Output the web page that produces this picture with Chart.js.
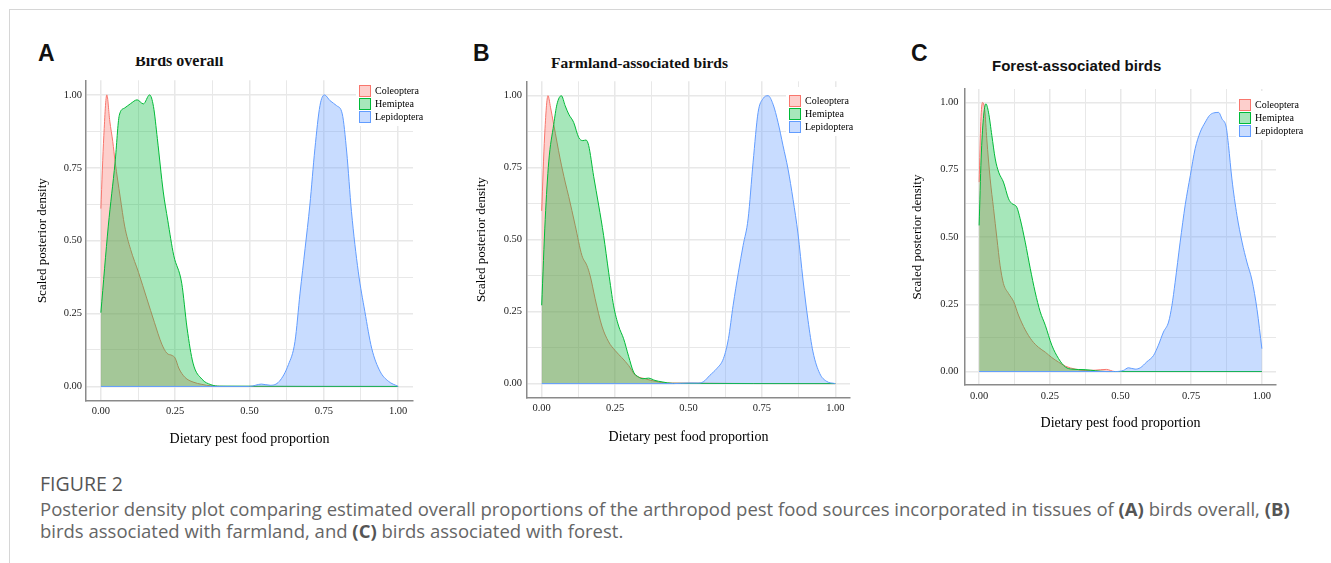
<!DOCTYPE html>
<html>
<head>
<meta charset="utf-8">
<script src="https://cdn.jsdelivr.net/npm/chart.js@4.4.1/dist/chart.umd.min.js"></script>
<style>
  html, body { margin: 0; padding: 0; background: #fff; }
  body { width: 1331px; height: 563px; position: relative; overflow: hidden; }
  .frame-top { position: absolute; left: 9px; top: 9px; width: 1322px; height: 1px; background: #d6d6d6; }
  .frame-left { position: absolute; left: 9px; top: 9px; width: 1px; height: 554px; background: #d6d6d6; }
  canvas { position: absolute; }
  .letter { position: absolute; font-family: "Liberation Sans", Arial, sans-serif; font-weight: bold;
            font-size: 23px; line-height: 23px; color: #111; }
  .title { position: absolute; font-weight: bold; color: #111; white-space: nowrap; }
  .serif { font-family: "Liberation Serif", "Times New Roman", serif; }
  .sans { font-family: "Liberation Sans", Arial, sans-serif; }
  .clip { position: absolute; overflow: hidden; }
  .cap { position: absolute; left: 40px; font-family: "Open Sans", sans-serif; white-space: nowrap;
         font-size: 18.5px; line-height: 22px; color: #666; }
  .cap b { color: #555; }
</style>
</head>
<body>
<div class="frame-top"></div>
<div class="frame-left"></div>

<div class="letter" style="left:38px; top:42px;">A</div>
<div class="letter" style="left:473px; top:42px;">B</div>
<div class="letter" style="left:911px; top:42px;">C</div>

<div class="clip" style="left:135px; top:57px; width:120px; height:14px;">
  <div class="title serif" style="left:0; top:-3.7px; font-size:16px; line-height:16px;">Birds overall</div>
</div>
<div class="title serif" style="left:551px; top:55.3px; font-size:15.5px; line-height:15.5px;">Farmland-associated birds</div>
<div class="title sans" style="left:992px; top:58px; font-size:15px; line-height:15px;">Forest-associated birds</div>

<canvas id="chartA" width="420" height="390" style="left:20px; top:70px;"></canvas>
<canvas id="chartB" width="420" height="390" style="left:460px; top:70px;"></canvas>
<canvas id="chartC" width="436" height="390" style="left:895px; top:70px;"></canvas>

<div class="cap" style="top:472.5px; font-size:19.5px; color:#555;">FIGURE 2</div>
<div class="cap" style="top:498px;">Posterior density plot comparing estimated overall proportions of the arthropod pest food sources incorporated in tissues of <b>(A)</b> birds overall, <b>(B)</b></div>
<div class="cap" style="top:520px;">birds associated with farmland, and <b>(C)</b> birds associated with forest.</div>

<script>
const groups = ['Coleoptera', 'Hemiptea', 'Lepidoptera'];
const xBreaks = [0, 0.25, 0.5, 0.75, 1];
const xBreakLabels = ['0.00', '0.25', '0.50', '0.75', '1.00'];
const yBreaks = [0, 0.25, 0.5, 0.75, 1];
const yBreakLabels = ['0.00', '0.25', '0.50', '0.75', '1.00'];
const minorBreaks = [0.125, 0.375, 0.625, 0.875];

// A - birds overall
const aColeopteraX = [0, 0.01, 0.02, 0.03, 0.04, 0.048, 0.065, 0.08, 0.1, 0.127, 0.155, 0.18, 0.205, 0.222, 0.24, 0.25, 0.262, 0.283, 0.31, 0.34, 0.37, 0.42, 1];
const aColeopteraY = [0.61, 0.86, 1.0, 0.91, 0.84, 0.77, 0.65, 0.55, 0.47, 0.39, 0.30, 0.22, 0.145, 0.114, 0.106, 0.097, 0.063, 0.031, 0.015, 0.007, 0.002, 0, 0];
const aHemipteaX = [0, 0.025, 0.048, 0.062, 0.08, 0.1, 0.122, 0.143, 0.164, 0.177, 0.19, 0.21, 0.225, 0.245, 0.272, 0.29, 0.31, 0.34, 0.37, 0.4, 1];
const aHemipteaY = [0.253, 0.55, 0.77, 0.93, 0.955, 0.97, 0.983, 0.969, 1.0, 0.96, 0.85, 0.667, 0.57, 0.45, 0.354, 0.2, 0.08, 0.025, 0.006, 0.001, 0];
const aLepidopteraX = [0, 0.5, 0.54, 0.57, 0.6, 0.631, 0.653, 0.67, 0.687, 0.703, 0.72, 0.737, 0.752, 0.771, 0.793, 0.812, 0.827, 0.843, 0.866, 0.888, 0.911, 0.939, 0.967, 1];
const aLepidopteraY = [0, 0, 0.008, 0.004, 0.017, 0.075, 0.154, 0.32, 0.473, 0.622, 0.815, 0.963, 1.0, 0.98, 0.963, 0.935, 0.804, 0.6, 0.393, 0.257, 0.131, 0.052, 0.018, 0];

// B - farmland-associated birds
const bColeopteraX = [0, 0.01, 0.0215, 0.03, 0.041, 0.063, 0.08, 0.092, 0.114, 0.137, 0.154, 0.165, 0.182, 0.205, 0.228, 0.25, 0.273, 0.296, 0.318, 0.352, 0.386, 0.43, 1];
const bColeopteraY = [0.60, 0.86, 1.0, 0.96, 0.90, 0.78, 0.70, 0.65, 0.55, 0.445, 0.41, 0.375, 0.295, 0.2, 0.145, 0.115, 0.09, 0.063, 0.03, 0.017, 0.008, 0.002, 0];
const bHemipteaX = [0, 0.012, 0.024, 0.041, 0.052, 0.067, 0.08, 0.092, 0.109, 0.126, 0.14, 0.151, 0.16, 0.177, 0.194, 0.211, 0.228, 0.245, 0.262, 0.279, 0.296, 0.313, 0.33, 0.345, 0.364, 0.386, 0.41, 0.445, 1];
const bHemipteaY = [0.272, 0.57, 0.77, 0.90, 0.97, 1.0, 0.965, 0.936, 0.907, 0.855, 0.844, 0.846, 0.827, 0.72, 0.62, 0.514, 0.387, 0.27, 0.2, 0.156, 0.095, 0.04, 0.023, 0.017, 0.019, 0.011, 0.006, 0.001, 0];
const bLepidopteraX = [0, 0.45, 0.5, 0.53, 0.55, 0.573, 0.596, 0.619, 0.636, 0.652, 0.67, 0.686, 0.703, 0.72, 0.737, 0.754, 0.771, 0.788, 0.805, 0.822, 0.839, 0.856, 0.873, 0.89, 0.907, 0.924, 0.947, 0.97, 1];
const bLepidopteraY = [0, 0, 0.002, 0.002, 0.006, 0.029, 0.052, 0.087, 0.156, 0.272, 0.387, 0.48, 0.572, 0.769, 0.942, 0.99, 1.0, 0.97, 0.907, 0.826, 0.745, 0.64, 0.52, 0.36, 0.22, 0.11, 0.035, 0.008, 0];

// C - forest-associated birds
const cColeopteraX = [0, 0.006, 0.012, 0.02, 0.027, 0.039, 0.051, 0.063, 0.074, 0.086, 0.104, 0.122, 0.139, 0.163, 0.187, 0.21, 0.234, 0.257, 0.281, 0.305, 0.34, 0.375, 0.41, 0.45, 0.48, 1];
const cColeopteraY = [0.704, 0.93, 1.0, 0.97, 0.865, 0.716, 0.605, 0.494, 0.395, 0.327, 0.29, 0.26, 0.21, 0.155, 0.115, 0.09, 0.072, 0.052, 0.035, 0.02, 0.009, 0.004, 0.005, 0.008, 0, 0];
const cHemipteaX = [0, 0.007, 0.015, 0.024, 0.033, 0.045, 0.057, 0.069, 0.086, 0.104, 0.116, 0.133, 0.145, 0.163, 0.181, 0.198, 0.216, 0.234, 0.257, 0.281, 0.305, 0.328, 0.375, 0.411, 0.45, 1];
const cHemipteaY = [0.543, 0.79, 0.94, 0.995, 0.964, 0.877, 0.79, 0.741, 0.704, 0.642, 0.624, 0.611, 0.568, 0.481, 0.382, 0.296, 0.222, 0.172, 0.098, 0.048, 0.017, 0.009, 0.007, 0.003, 0, 0];
const cLepidopteraX = [0, 0.48, 0.51, 0.528, 0.552, 0.57, 0.593, 0.617, 0.634, 0.652, 0.67, 0.682, 0.693, 0.711, 0.729, 0.747, 0.764, 0.782, 0.8, 0.815, 0.829, 0.847, 0.859, 0.874, 0.882, 0.894, 0.912, 0.93, 0.947, 0.965, 0.983, 1];
const cLepidopteraY = [0, 0, 0.004, 0.014, 0.009, 0.014, 0.036, 0.06, 0.098, 0.147, 0.184, 0.246, 0.33, 0.481, 0.62, 0.729, 0.828, 0.89, 0.927, 0.952, 0.961, 0.963, 0.939, 0.908, 0.84, 0.716, 0.58, 0.481, 0.407, 0.34, 0.23, 0.085];

const lineColors = ['#F8766D', '#00BA38', '#619CFF'];
const fillColors = ['rgba(248,118,109,0.35)', 'rgba(0,186,56,0.35)', 'rgba(97,156,255,0.35)'];

// ggplot-like legend with a white box, drawn at a fixed place
const ggLegend = {
  id: 'ggLegend',
  afterDraw(chart, args, opts) {
    const ctx = chart.ctx;
    const sets = chart.data.datasets;
    ctx.save();
    ctx.font = '10px "Liberation Serif"';
    let w = 0;
    sets.forEach(d => { w = Math.max(w, ctx.measureText(d.label).width); });
    ctx.fillStyle = '#fff';
    ctx.fillRect(opts.x - 3, opts.y - 8, 12 + 4 + w + 8, sets.length * opts.step + 10);
    sets.forEach((d, i) => {
      const y = opts.y + i * opts.step;
      ctx.fillStyle = d.backgroundColor;
      ctx.fillRect(opts.x, y, 12, 12);
      ctx.strokeStyle = d.borderColor;
      ctx.lineWidth = 1;
      ctx.strokeRect(opts.x + 0.5, y + 0.5, 11, 11);
      ctx.fillStyle = '#000';
      ctx.textBaseline = 'middle';
      ctx.fillText(d.label, opts.x + 16, y + 6.5);
    });
    ctx.restore();
  }
};

function pts(xs, ys) {
  return xs.map((x, i) => ({ x: x, y: ys[i] }));
}

function breakLabel(v, breaks, labels) {
  const i = breaks.findIndex(b => Math.abs(b - v) < 1e-6);
  return i < 0 ? '' : labels[i];
}

function isMajor(v, breaks) {
  return breaks.some(b => Math.abs(b - v) < 1e-6);
}

const allX = xBreaks.concat(minorBreaks).sort((a, b) => a - b);
const allY = yBreaks.concat(minorBreaks).sort((a, b) => a - b);

function makePanel(p) {
  const yWidth = p.area.l - p.box.left;
  const xHeight = p.box.top + p.box.h - p.area.b;
  const xTitleFont = { family: 'Liberation Serif', size: 14 };
  const yTitleFont = { family: 'Liberation Serif', size: 13 };
  const tickFont = { family: 'Liberation Serif', size: 10.5 };

  new Chart(document.getElementById(p.id), {
    type: 'line',
    data: {
      datasets: p.series.map((s, i) => ({
        label: groups[i],
        data: pts(s[0], s[1]),
        borderColor: lineColors[i],
        backgroundColor: fillColors[i],
        borderWidth: 1,
        pointRadius: 0,
        fill: 'origin',
        cubicInterpolationMode: 'monotone',
        order: 3 - i
      }))
    },
    options: {
      responsive: false,
      animation: false,
      devicePixelRatio: 1,
      events: [],
      layout: {
        padding: { left: 0, top: p.area.t - p.box.top, right: p.box.left + p.box.w - p.area.r, bottom: 0 }
      },
      plugins: {
        legend: { display: false },
        tooltip: { enabled: false },
        ggLegend: { x: p.legend.x - p.box.left, y: p.legend.y - p.box.top, step: 13 }
      },
      scales: {
        x: {
          type: 'linear', min: -0.05, max: 1.05, bounds: 'data',
          afterBuildTicks: s => { s.ticks = allX.map(v => ({ value: v })); },
          afterFit: s => { s.height = xHeight; },
          ticks: {
            autoSkip: false, maxRotation: 0, padding: p.xPad, font: tickFont, color: '#222',
            callback: v => breakLabel(v, xBreaks, xBreakLabels)
          },
          grid: { color: '#e8e8e8', drawTicks: false, lineWidth: c => isMajor(c.tick.value, xBreaks) ? 1.5 : 1 },
          border: { display: true, color: '#8a8a8a', width: 1.5 },
          title: {
            display: true, text: 'Dietary pest food proportion', font: xTitleFont, color: '#000',
            padding: { top: 0, bottom: p.box.top + p.box.h - p.xTitleY - 14 * 1.2 / 2 }
          }
        },
        y: {
          type: 'linear', min: -0.05, max: 1.05, bounds: 'data',
          afterBuildTicks: s => { s.ticks = allY.map(v => ({ value: v })); },
          afterFit: s => { s.width = yWidth; },
          ticks: {
            autoSkip: false, padding: p.yPad, font: tickFont, color: '#222',
            callback: v => breakLabel(v, yBreaks, yBreakLabels)
          },
          grid: { color: '#e8e8e8', drawTicks: false, lineWidth: c => isMajor(c.tick.value, yBreaks) ? 1.5 : 1 },
          border: { display: true, color: '#8a8a8a', width: 1.5 },
          title: {
            display: true, text: 'Scaled posterior density', font: yTitleFont, color: '#000',
            padding: { top: p.yTitleX - p.box.left - 13 * 1.2 / 2, bottom: 0 }
          }
        }
      }
    },
    plugins: [ggLegend]
  });
}

makePanel({
  id: 'chartA',
  box: { left: 20, top: 70, w: 420, h: 390 },
  area: { l: 86, r: 413, t: 80, b: 401 },
  yTitleX: 43, xTitleY: 439, yPad: 4, xPad: 4,
  legend: { x: 359, y: 85 },
  series: [[aColeopteraX, aColeopteraY], [aHemipteaX, aHemipteaY], [aLepidopteraX, aLepidopteraY]]
});
makePanel({
  id: 'chartB',
  box: { left: 460, top: 70, w: 420, h: 390 },
  area: { l: 527, r: 850, t: 81, b: 398 },
  yTitleX: 482, xTitleY: 437, yPad: 5, xPad: 4,
  legend: { x: 789, y: 95 },
  series: [[bColeopteraX, bColeopteraY], [bHemipteaX, bHemipteaY], [bLepidopteraX, bLepidopteraY]]
});
makePanel({
  id: 'chartC',
  box: { left: 895, top: 70, w: 436, h: 390 },
  area: { l: 965, r: 1276, t: 89, b: 385 },
  yTitleX: 918, xTitleY: 423, yPad: 6.5, xPad: 5,
  legend: { x: 1239, y: 99 },
  series: [[cColeopteraX, cColeopteraY], [cHemipteaX, cHemipteaY], [cLepidopteraX, cLepidopteraY]]
});
</script>
</body>
</html>
